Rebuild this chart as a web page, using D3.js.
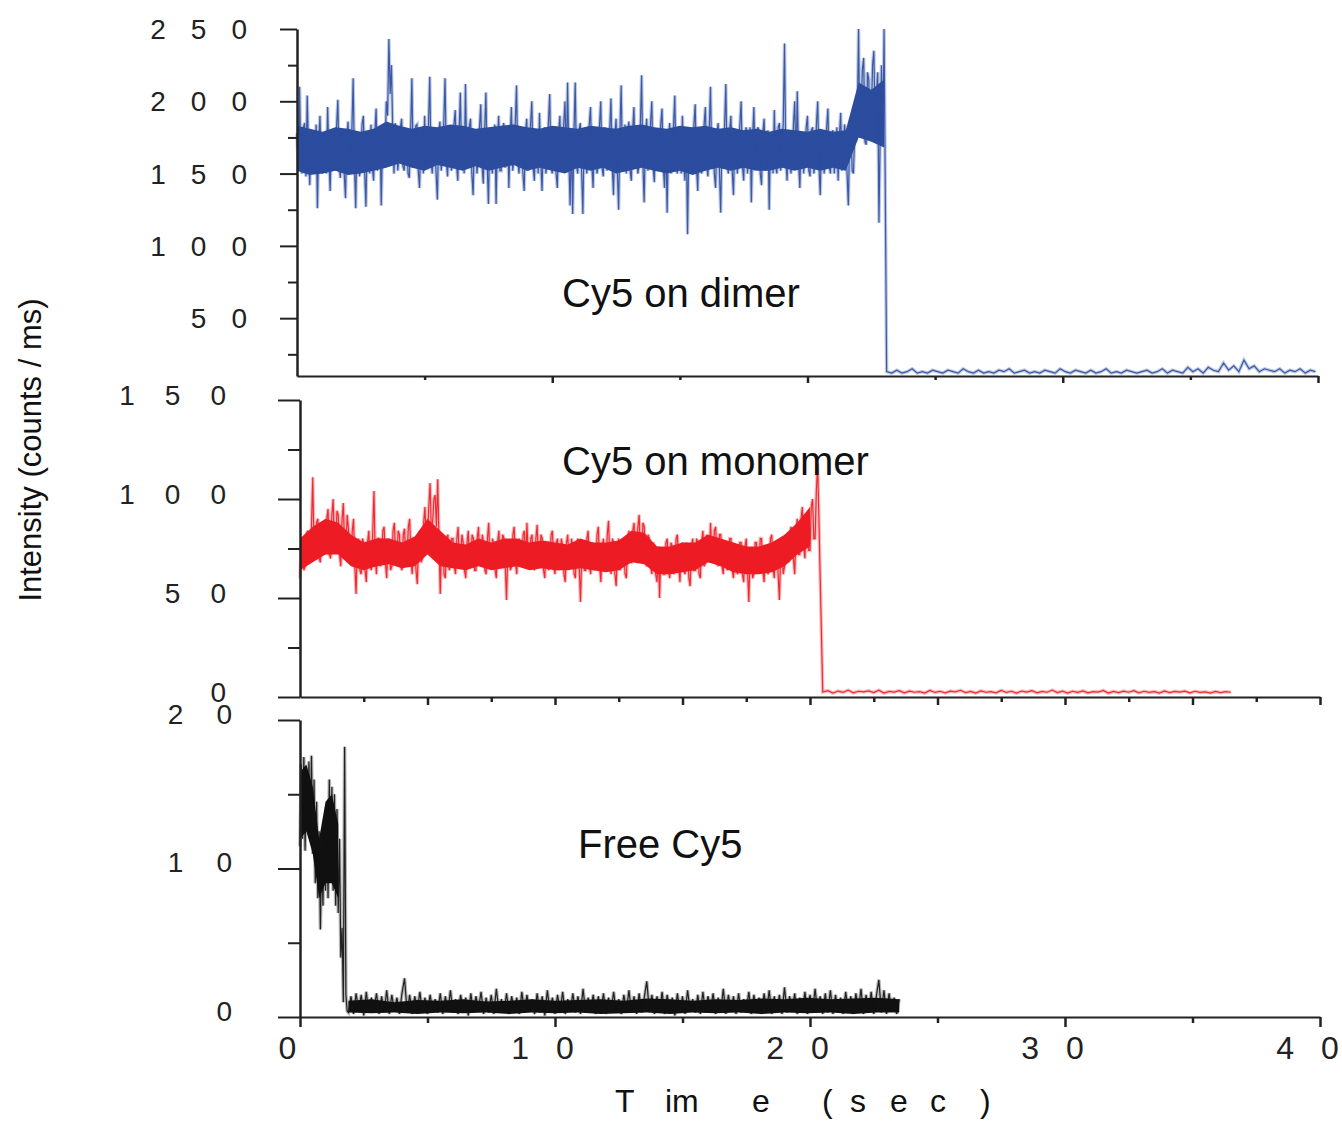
<!DOCTYPE html>
<html>
    <head>
        <title>Cy5 intensity traces</title>
        <script src="https://d3js.org/d3.v7.min.js"></script>
        <style>
            body {
                margin:0;
                background:white;
            }
            svg {
                font-family:'Liberation Sans', Arial, sans-serif;
            }
            .axis path, .axis line {
                stroke:#222;
            }
            .axis text {
                fill:#222;
            }
        </style>
    </head>
    <body>
        <svg width="1342" height="1123"></svg>
    </body>
    <script>
        // Time axis (sec) shared by the three panels
        const timeDomain = [0, 40];

        // Cy5 on dimer: on-state sampled every 0.05 s from t = 0, then bleached level
        const dimerOnStep = 0.05;
        const dimerOn = [
            178, 152, 210, 160, 150, 182, 185, 148, 204, 168, 142, 180, 176, 150, 158, 184, 126, 172, 190, 155,
            150, 178, 172, 150, 196, 160, 138, 176, 180, 152, 160, 182, 201, 155, 147, 180, 170, 150, 133, 175,
            186, 150, 155, 180, 216, 158, 126, 178, 175, 148, 162, 184, 190, 152, 127, 176, 168, 150, 184, 155,
            145, 178, 195, 152, 160, 182, 128, 170, 182, 165, 200, 190, 243, 205, 225, 180, 150, 185, 175, 152,
            165, 182, 188, 155, 152, 180, 176, 150, 147, 178, 216, 158, 160, 183, 184, 152, 140, 176, 178, 150,
            190, 156, 155, 182, 217, 160, 150, 180, 172, 150, 132, 178, 186, 152, 163, 185, 216, 158, 148, 180,
            180, 152, 158, 184, 194, 156, 145, 178, 206, 160, 170, 150, 212, 162, 154, 182, 188, 150, 135, 176,
            176, 150, 162, 182, 198, 155, 143, 180, 206, 158, 129, 176, 180, 150, 160, 184, 129, 172, 190, 152,
            152, 180, 185, 154, 168, 182, 140, 175, 196, 152, 160, 184, 211, 158, 150, 182, 178, 150, 138, 178,
            188, 152, 160, 184, 200, 155, 145, 180, 176, 150, 192, 158, 138, 176, 182, 150, 158, 185, 205, 156,
            150, 182, 174, 150, 140, 178, 190, 152, 165, 184, 200, 156, 213, 160, 128, 176, 122, 178, 213, 155,
            150, 180, 185, 152, 122, 178, 176, 150, 160, 184, 196, 156, 140, 178, 182, 150, 155, 183, 200, 154,
            148, 182, 178, 152, 165, 180, 202, 155, 135, 176, 188, 152, 125, 178, 211, 158, 160, 184, 150, 178,
            186, 152, 145, 180, 196, 155, 170, 150, 155, 182, 218, 158, 130, 176, 188, 152, 162, 184, 200, 155,
            144, 178, 180, 152, 158, 184, 195, 155, 140, 176, 123, 172, 185, 150, 165, 182, 204, 156, 150, 180,
            175, 150, 190, 156, 145, 178, 108, 170, 172, 150, 160, 184, 198, 155, 138, 178, 182, 150, 160, 184,
            196, 155, 148, 180, 210, 158, 170, 150, 140, 178, 185, 152, 123, 176, 160, 182, 212, 156, 150, 180,
            190, 152, 135, 178, 176, 150, 160, 184, 200, 155, 145, 178, 182, 150, 168, 182, 130, 176, 196, 154,
            155, 182, 180, 150, 142, 178, 188, 152, 165, 180, 125, 176, 176, 150, 194, 156, 150, 182, 185, 152,
            162, 185, 240, 160, 145, 178, 180, 150, 158, 184, 200, 155, 207, 158, 140, 176, 178, 150, 165, 182,
            190, 152, 148, 180, 182, 150, 160, 184, 200, 155, 135, 176, 176, 150, 158, 182, 195, 155, 150, 178,
            180, 150, 165, 182, 145, 176, 192, 152, 160, 184, 175, 150, 128, 176, 185, 152, 150, 178, 172, 185,
            250, 175, 195, 222, 230, 172, 170, 220, 215, 175, 190, 225, 235, 180, 205, 220, 116, 180, 225, 172,
            250
        ];
        const dimerOffStart = 23.1, dimerOffStep = 0.2;
        const dimerOff = [
            13, 12, 14, 12, 13, 15, 12, 13, 12, 14,
            13, 12, 14, 13, 12, 15, 13, 12, 14, 12,
            13, 12, 14, 13, 15, 12, 13, 14, 12, 13,
            12, 14, 13, 12, 15, 13, 12, 14, 13, 12,
            14, 12, 13, 15, 12, 13, 12, 14, 13, 12,
            13, 14, 12, 13, 15, 12, 14, 13, 12, 16,
            13, 15, 12, 16, 14, 13, 19, 14, 17, 13,
            21, 15, 17, 13, 15, 14, 13, 15, 12, 14,
            13, 15, 12, 14, 13
        ];
        // solid middle of the dimer trace, read every 0.5 s
        const dimerCoreStep = 0.5;
        const dimerCoreLo = [
            152, 149, 150, 152, 149, 150, 152, 154, 157, 154,
            152, 156, 154, 152, 155, 152, 154, 156, 152, 154,
            152, 150, 154, 152, 154, 150, 152, 154, 152, 150,
            152, 149, 152, 154, 152, 154, 152, 152, 154, 152,
            154, 152, 154, 152, 175, 172, 168
        ];
        const dimerCoreHi = [
            183, 181, 179, 182, 181, 179, 181, 186, 183, 181,
            183, 182, 184, 183, 181, 182, 183, 184, 182, 181,
            183, 182, 181, 183, 182, 181, 183, 184, 182, 181,
            183, 182, 183, 181, 182, 180, 181, 179, 181, 180,
            179, 181, 179, 180, 213, 208, 215
        ];

        // Cy5 on monomer: on-state every 0.05 s, then bleached level
        const monomerOnStep = 0.05;
        const monomerOn = [
            60, 78, 80, 64, 66, 82, 84, 68, 70, 86, 111, 74, 72, 88, 90, 70, 68, 86, 88, 72,
            74, 90, 95, 72, 70, 92, 100, 76, 78, 94, 92, 72, 66, 90, 98, 74, 75, 92, 85, 70,
            68, 84, 90, 66, 52, 78, 80, 64, 62, 80, 78, 64, 58, 78, 84, 66, 64, 82, 104, 70,
            62, 80, 80, 66, 68, 84, 86, 68, 60, 80, 78, 64, 66, 84, 88, 70, 70, 84, 82, 66,
            64, 82, 85, 68, 72, 86, 90, 70, 62, 80, 80, 64, 57, 78, 84, 68, 70, 88, 96, 78,
            80, 96, 108, 84, 88, 100, 102, 86, 110, 80, 52, 76, 78, 62, 60, 80, 82, 64, 66, 80,
            80, 66, 62, 80, 86, 68, 70, 82, 78, 64, 60, 78, 84, 66, 66, 82, 80, 64, 64, 80,
            86, 68, 70, 82, 78, 64, 62, 80, 88, 68, 66, 80, 76, 64, 60, 78, 84, 66, 68, 82,
            80, 66, 49, 74, 78, 64, 66, 82, 86, 68, 62, 78, 80, 66, 70, 82, 84, 68, 88, 70,
            66, 80, 82, 66, 64, 80, 87, 68, 70, 82, 80, 64, 60, 78, 78, 64, 68, 82, 84, 66,
            62, 78, 80, 64, 70, 80, 76, 62, 58, 78, 82, 66, 66, 80, 74, 62, 60, 78, 80, 66,
            48, 72, 78, 64, 64, 80, 84, 66, 62, 78, 76, 64, 68, 82, 86, 66, 58, 76, 80, 64,
            66, 82, 89, 68, 62, 80, 78, 62, 56, 76, 80, 64, 66, 80, 72, 62, 60, 78, 84, 68,
            68, 84, 88, 70, 70, 86, 92, 72, 72, 88, 86, 70, 66, 82, 80, 66, 62, 78, 76, 62,
            58, 76, 50, 72, 74, 62, 62, 78, 80, 64, 60, 78, 76, 62, 64, 80, 82, 66, 58, 76,
            78, 64, 62, 78, 74, 60, 56, 76, 80, 64, 64, 80, 78, 62, 60, 78, 84, 66, 68, 82,
            80, 68, 88, 72, 70, 84, 86, 70, 66, 82, 82, 66, 62, 78, 78, 64, 66, 80, 80, 64,
            60, 76, 76, 62, 64, 78, 78, 62, 58, 76, 80, 64, 48, 72, 74, 60, 62, 78, 78, 64,
            66, 80, 80, 64, 58, 76, 76, 62, 64, 80, 82, 66, 60, 78, 78, 62, 49, 72, 74, 62,
            66, 82, 80, 68, 70, 86, 84, 70, 62, 84, 90, 72, 72, 90, 96, 76, 70, 92, 88, 74,
            74, 96, 100, 80, 80, 104, 118, 90, 60
        ];
        const monomerOffStart = 20.5, monomerOffStep = 0.2;
        const monomerOff = [
            2.5, 3.2, 2.0, 3.0, 2.4, 3.5, 2.1, 2.9, 2.6, 3.1,
            2.2, 3.4, 2.0, 2.8, 2.5, 3.2, 2.1, 3.0, 2.4, 2.7,
            2.0, 3.3, 2.3, 2.9, 2.1, 3.0, 2.6, 3.4, 2.2, 2.8,
            2.0, 3.1, 2.4, 2.7, 2.1, 3.3, 2.3, 2.9, 2.0, 3.0,
            2.5, 3.2, 2.1, 2.8, 2.4, 3.5, 2.2, 3.0, 2.0, 2.9,
            2.3, 3.1, 2.1, 2.7, 2.5, 3.3, 2.0, 2.8, 2.2, 3.0,
            2.4, 3.2, 2.1, 2.9, 2.3, 2.7, 2.0, 3.1, 2.2, 2.8,
            2.5, 3.0, 2.1, 2.9, 2.3, 2.6, 2.0, 2.8, 2.2, 2.7,
            2.4
        ];
        const monomerCoreStep = 0.5;
        const monomerCoreLo = [
            64, 68, 72, 72, 66, 64, 66, 67, 65, 66,
            72, 66, 65, 64, 66, 64, 65, 66, 64, 65,
            64, 64, 65, 64, 63, 64, 68, 67, 62, 62,
            63, 64, 68, 66, 63, 62, 62, 63, 66, 72,
            76
        ];
        const monomerCoreHi = [
            80, 86, 90, 88, 82, 78, 80, 80, 78, 81,
            90, 84, 78, 77, 80, 78, 80, 80, 78, 79,
            78, 77, 80, 78, 78, 79, 84, 83, 76, 76,
            78, 78, 82, 80, 78, 76, 76, 78, 82, 88,
            96
        ];

        // Free Cy5 (on-state sampled every 0.05 s)
        const freeOnStep = 0.05;
        const freeOn = [
            11.5, 17.0, 12.0, 17.5, 11.2, 16.5, 12.5, 17.2, 12.0, 17.6,
            11.0, 16.0, 9.0, 14.5, 8.0, 12.5, 5.9, 11.5, 7.5, 13.0,
            8.5, 14.0, 8.0, 16.0, 9.5, 15.5, 8.5, 15.0, 7.5, 14.0,
            7.0, 12.0, 4.0, 6.0, 1.0, 18.2, 1.5, 0.4
        ];
        const freeOffStart = 1.9, freeOffStep = 0.1;
        const freeOff = [
            0.3, 1.4, 0.2, 1.6, 0.4, 1.5, 0.1, 1.7, 0.3, 1.3,
            0.5, 1.6, 0.2, 1.4, 0.3, 1.8, 0.2, 1.5, 0.4, 1.3,
            0.2, 1.6, 2.6, 0.3, 1.5, 0.2, 1.4, 0.4, 1.7, 0.3,
            1.3, 0.2, 1.5, 0.5, 1.2, 0.3, 1.6, 0.2, 1.4, 0.4,
            1.8, 0.3, 1.2, 0.2, 1.5, 0.4, 1.3, 0.1, 1.6, 0.3,
            1.4, 0.5, 1.7, 0.2, 1.3, 0.3, 1.5, 0.2, 1.9, 0.4,
            1.2, 0.3, 1.6, 0.2, 1.4, 0.5, 1.3, 0.2, 1.7, 0.3,
            1.5, 0.4, 1.2, 0.2, 1.6, 0.3, 1.4, 0.1, 1.8, 0.4,
            1.3, 0.2, 1.5, 0.3, 1.7, 0.2, 1.2, 0.4, 1.6, 0.3,
            1.4, 0.2, 1.9, 0.3, 1.3, 0.5, 1.5, 0.2, 1.4, 0.3,
            1.6, 0.2, 1.3, 0.4, 1.7, 0.3, 1.2, 0.2, 1.5, 0.4,
            1.8, 0.3, 1.4, 0.2, 1.6, 0.3, 1.3, 2.4, 0.4, 1.5,
            0.2, 1.4, 0.3, 1.7, 0.2, 1.5, 0.4, 1.3, 0.1, 1.6,
            0.3, 1.4, 0.2, 1.8, 0.4, 1.2, 0.3, 1.5, 0.2, 1.7,
            0.3, 1.4, 0.5, 1.6, 0.2, 1.3, 0.3, 1.9, 0.2, 1.5,
            0.4, 1.4, 0.2, 1.6, 0.3, 1.2, 0.4, 1.7, 0.2, 1.5,
            0.3, 1.3, 0.2, 1.6, 0.4, 1.8, 0.2, 1.4, 0.3, 1.5,
            0.2, 2.0, 0.3, 1.4, 0.4, 1.6, 0.2, 1.3, 0.3, 1.7,
            0.2, 1.5, 0.4, 1.9, 0.3, 1.4, 0.2, 1.6, 0.3, 1.8,
            0.2, 1.5, 0.4, 1.3, 0.2, 1.7, 0.3, 1.4, 0.2, 1.6,
            0.4, 1.9, 0.2, 1.5, 0.3, 1.7, 0.2, 1.4, 2.5, 0.3,
            1.8, 0.2, 1.6, 0.4, 1.3, 0.2, 1.2
        ];
        // dense core of the free Cy5 trace: bright part (every 0.25 s) and background (every 0.9 s)
        const freeOnCoreStep = 0.25;
        const freeOnCoreLo = [12, 12.5, 11, 8, 9, 9, 8];
        const freeOnCoreHi = [16.5, 17, 15.5, 12, 14.5, 15, 13];
        const freeOffCoreStart = 1.9, freeOffCoreStep = 0.9;
        const freeOffCoreLo = [
            0.3, 0.25, 0.3, 0.2, 0.3, 0.25, 0.3, 0.2, 0.3, 0.25,
            0.3, 0.2, 0.25, 0.3, 0.2, 0.3, 0.25, 0.3, 0.2, 0.3,
            0.25, 0.3, 0.2, 0.3, 0.3
        ];
        const freeOffCoreHi = [
            1.1, 1.2, 1.0, 1.15, 1.1, 1.2, 1.05, 1.1, 1.2, 1.1,
            1.15, 1.2, 1.1, 1.25, 1.2, 1.1, 1.2, 1.15, 1.25, 1.2,
            1.3, 1.2, 1.25, 1.3, 1.2
        ];

        // Tick values
        const dimerTicks = [50, 100, 150, 200, 250];
        const dimerMinor = [25, 75, 125, 175, 225];
        const monomerTicks = [0, 50, 100, 150];
        const monomerMinor = [25, 75, 125];
        const freeTicks = [0, 10, 20];
        const freeMinor = [5, 15];
        const timeTicks = [0, 10, 20, 30, 40];
        const timeMinor = [5, 15, 25, 35];
        const timeQuarter = [2.5, 7.5, 12.5, 17.5, 22.5, 27.5, 32.5, 37.5];

        const svg = d3.select('svg');

        // turn a sampled trace into {t, v} points
        function samples(values, start, step) {
            return values.map((v, i) => ({ t: start + i * step, v: v }));
        }
        function band(lo, hi, start, step) {
            return lo.map((l, i) => ({ t: start + i * step, lo: l, hi: hi[i] }));
        }

        // spaced-out digits: letter-spacing between glyphs, none after the last one
        function spacedLabel(sel, ls) {
            sel.each(function() {
                const t = d3.select(this);
                const s = t.text();
                t.text('');
                s.split('').forEach((ch, i) => {
                    t.append('tspan')
                        .style('letter-spacing', i < s.length - 1 ? ls + 'px' : '0px')
                        .text(ch);
                });
            });
        }

        const panels = [
            { label: 'Cy5 on dimer', labelX: 562, labelY: 307, color: '#2c4c9e',
              points: samples(dimerOn, 0, dimerOnStep).concat(samples(dimerOff, dimerOffStart, dimerOffStep)),
              cores: [band(dimerCoreLo, dimerCoreHi, 0, dimerCoreStep)],
              yDomain: [10, 250], top: 29, bottom: 376, left: 297, right: 1318,
              yTicks: dimerTicks, yMinor: dimerMinor, yTick: 17, yMinorTick: 9, yPad: 8, yDy: '0.34em', ls: 25,
              xMajor: [10, 20, 30, 40], xMinor: timeMinor, xTick: 7, xMinorTick: 4 },
            { label: 'Cy5 on monomer', labelX: 562, labelY: 475, color: '#ed1c24',
              points: samples(monomerOn, 0, monomerOnStep).concat(samples(monomerOff, monomerOffStart, monomerOffStep)),
              cores: [band(monomerCoreLo, monomerCoreHi, 0, monomerCoreStep)],
              yDomain: [0, 150], top: 400, bottom: 697, left: 300, right: 1320,
              yTicks: monomerTicks, yMinor: monomerMinor, yTick: 22, yMinorTick: 12, yPad: 22, yDy: '0.15em', ls: 30,
              xMajor: [5, 10, 15, 20, 25, 30, 35, 40], xMinor: timeQuarter, xTick: 8, xMinorTick: 5 },
            { label: 'Free Cy5', labelX: 578, labelY: 858, color: '#111111',
              points: samples(freeOn, 0, freeOnStep).concat(samples(freeOff, freeOffStart, freeOffStep)),
              cores: [band(freeOnCoreLo, freeOnCoreHi, 0, freeOnCoreStep),
                      band(freeOffCoreLo, freeOffCoreHi, freeOffCoreStart, freeOffCoreStep)],
              yDomain: [0, 20], top: 720, bottom: 1017, left: 300, right: 1320,
              yTicks: freeTicks, yMinor: freeMinor, yTick: 22, yMinorTick: 12, yPad: 13, yDy: '0.12em', ls: 33,
              xMajor: timeTicks, xMinor: timeMinor, xTick: 10, xMinorTick: 6, xLabels: true }
        ];

        panels.forEach(p => {
            const x = d3.scaleLinear().domain(timeDomain).range([p.left, p.right]);
            const y = d3.scaleLinear().domain(p.yDomain).range([p.bottom, p.top]);
            const g = svg.append('g');
            const line = d3.line().x(d => x(d.t)).y(d => y(d.v));

            // soft wide copy of the trace (the scan is blurry), then solid core, then crisp trace
            g.append('path')
                .datum(p.points)
                .attr('d', line)
                .attr('fill', 'none')
                .attr('stroke', p.color)
                .attr('stroke-opacity', 0.3)
                .attr('stroke-width', 3.5);

            const area = d3.area().x(d => x(d.t)).y0(d => y(d.lo)).y1(d => y(d.hi));
            p.cores.forEach(c => {
                g.append('path')
                    .datum(c)
                    .attr('d', area)
                    .attr('fill', p.color);
            });

            g.append('path')
                .datum(p.points)
                .attr('d', line)
                .attr('fill', 'none')
                .attr('stroke', p.color)
                .attr('stroke-opacity', 0.9)
                .attr('stroke-width', 1.2);

            // y axis: minor ticks then labelled ticks
            g.append('g').attr('class', 'axis')
                .attr('transform', `translate(${p.left},0)`)
                .call(d3.axisLeft(y).tickValues(p.yMinor).tickSize(p.yMinorTick).tickSizeOuter(0).tickFormat(''))
                .call(a => a.selectAll('line').attr('stroke-width', 2))
                .call(a => a.select('.domain').remove());
            g.append('g').attr('class', 'axis')
                .attr('transform', `translate(${p.left},0)`)
                .call(d3.axisLeft(y).tickValues(p.yTicks).tickSize(p.yTick).tickSizeOuter(0).tickPadding(p.yPad))
                .call(a => a.select('.domain').attr('stroke-width', 2.5))
                .call(a => a.selectAll('line').attr('stroke-width', 2))
                .call(a => a.selectAll('text')
                    .attr('x', -(p.yTick + p.yPad + p.ls))
                    .attr('dy', p.yDy)
                    .style('font-size', '28px')
                    .style('font-family', "'Liberation Sans', Arial, sans-serif")
                    .call(spacedLabel, p.ls));

            // x axis
            g.append('g').attr('class', 'axis')
                .attr('transform', `translate(0,${p.bottom})`)
                .call(d3.axisBottom(x).tickValues(p.xMinor).tickSize(p.xMinorTick).tickSizeOuter(0).tickFormat(''))
                .call(a => a.selectAll('line').attr('stroke-width', 2.5))
                .call(a => a.select('.domain').remove());
            const xAxis = d3.axisBottom(x).tickValues(p.xMajor).tickSize(p.xTick).tickSizeOuter(0).tickPadding(9);
            if (!p.xLabels) xAxis.tickFormat('');
            g.append('g').attr('class', 'axis')
                .attr('transform', `translate(0,${p.bottom})`)
                .call(xAxis)
                .call(a => a.select('.domain').attr('stroke-width', 2).attr('stroke', '#444'))
                .call(a => a.selectAll('line').attr('stroke-width', 2.5))
                .call(a => a.selectAll('text')
                    .attr('dx', -13)
                    .style('font-size', '32px')
                    .style('font-family', "'Liberation Sans', Arial, sans-serif")
                    .call(spacedLabel, 27));

            // panel label
            g.append('text')
                .attr('x', p.labelX)
                .attr('y', p.labelY)
                .style('font-size', '40px')
                .style('fill', '#111')
                .text(p.label);
        });

        // y axis title
        svg.append('text')
            .attr('transform', 'translate(30,450) rotate(-90)')
            .attr('text-anchor', 'middle')
            .attr('dominant-baseline', 'central')
            .style('font-size', '31px')
            .style('fill', '#111')
            .text('Intensity (counts / ms)');

        // x axis title, spaced out like the original
        const timeTitle = [['T', 615], ['im', 665], ['e', 752], ['(', 822], ['s', 850], ['e', 890], ['c', 930], [')', 980]];
        const title = svg.append('text')
            .attr('y', 1112)
            .style('font-size', '32px')
            .style('fill', '#111');
        title.selectAll('tspan')
            .data(timeTitle)
            .enter()
            .append('tspan')
            .attr('x', d => d[1])
            .text(d => d[0]);
    </script>
</html>
